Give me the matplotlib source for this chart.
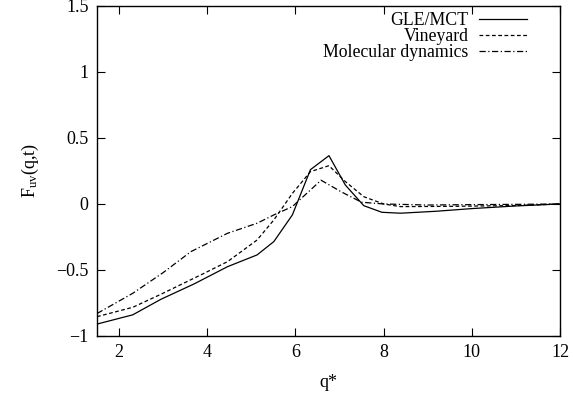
import numpy as np
import matplotlib
matplotlib.use("Agg")
import matplotlib.pyplot as plt

plt.rcParams['font.family'] = ['Liberation Serif', 'DejaVu Serif']
plt.rcParams['mathtext.fontset'] = 'custom'
plt.rcParams['mathtext.rm'] = 'Liberation Serif'
plt.rcParams['mathtext.it'] = 'Liberation Serif'

# GLE/MCT
q_gle = [1.5, 2.31, 2.95, 3.70, 4.46, 5.13, 5.51, 5.93, 6.34, 6.76, 7.13, 7.55, 7.96, 8.38, 9.2, 10.0, 11.0, 12.0]
f_gle = [-0.91, -0.84, -0.722, -0.606, -0.475, -0.386, -0.285, -0.083, 0.26, 0.366, 0.144, -0.013, -0.063, -0.07, -0.055, -0.035, -0.015, 0.0]

# Vineyard
q_vin = [1.5, 2.31, 2.95, 3.93, 4.46, 5.13, 5.51, 5.93, 6.34, 6.76, 7.13, 7.55, 8.0, 8.38, 9.5, 11.0, 12.0]
f_vin = [-0.854, -0.783, -0.684, -0.525, -0.437, -0.273, -0.121, 0.08, 0.245, 0.29, 0.17, 0.055, 0.0, -0.02, -0.018, -0.012, 0.0]

# Molecular dynamics
q_md = [1.5, 2.31, 3.0, 3.63, 4.46, 5.13, 5.51, 5.93, 6.34, 6.58, 7.05, 7.5, 8.0, 9.0, 10.0, 11.0, 12.0]
f_md = [-0.83, -0.677, -0.52, -0.361, -0.222, -0.146, -0.083, -0.02, 0.106, 0.18, 0.09, 0.013, 0.0, -0.008, -0.005, -0.003, 0.0]

fig = plt.figure(figsize=(5.75, 3.99), dpi=100)
ax = fig.add_axes([0.1687, 0.158, 0.8053, 0.827])

ax.plot(q_gle, f_gle, color='black', lw=0.9, label='GLE/MCT')
ax.plot(q_vin, f_vin, color='black', lw=0.9, dashes=(3, 2), label='Vineyard')
ax.plot(q_md, f_md, color='black', lw=0.9, dashes=(5, 2, 1, 2), label='Molecular dynamics')

ax.set_xlim(1.5, 12)
ax.set_ylim(-1, 1.5)
ax.set_xticks([2, 4, 6, 8, 10, 12])
ax.set_yticks([-1, -0.5, 0, 0.5, 1, 1.5])
ax.set_yticklabels(['\u22121', '\u22120.5', '0', '0.5', '1', '1.5'])
ax.tick_params(direction='in', top=True, right=True, length=6, width=0.8,
               labelsize=13, pad=6)
for s in ax.spines.values():
    s.set_linewidth(1.0)

ax.set_xlabel('q*', fontsize=13, labelpad=9)
ax.set_ylabel(r'F$_{\mathrm{uv}}$(q,t)', fontsize=13, labelpad=11)

ax.legend(loc='upper right', frameon=False, markerfirst=False, fontsize=12.8,
          handlelength=2.7, handletextpad=0.6, labelspacing=-0.05,
          borderpad=0, borderaxespad=0, bbox_to_anchor=(0.929, 0.982))

fig.savefig('out.png', dpi=100)
